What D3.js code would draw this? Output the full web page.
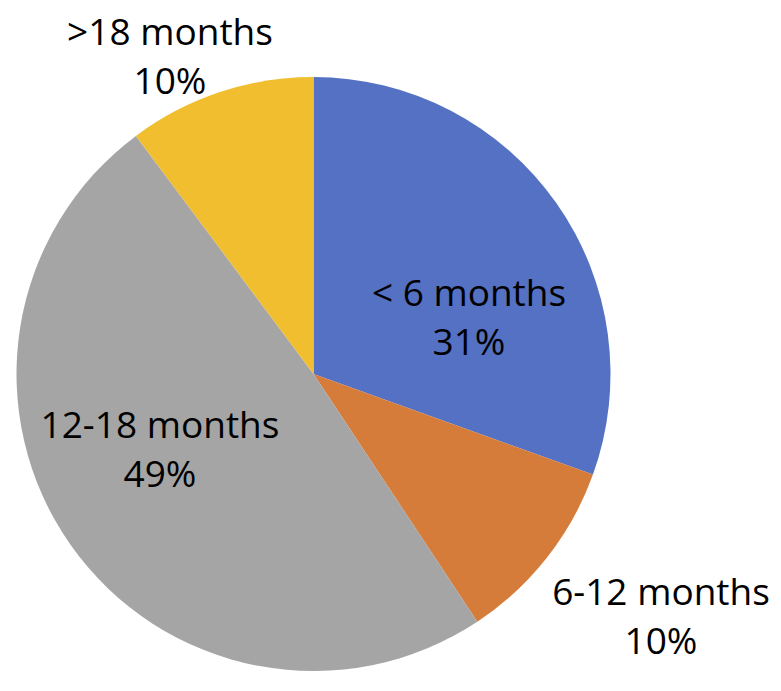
<!DOCTYPE html>
<html>
<head>
<meta charset="utf-8">
<script src="https://cdn.jsdelivr.net/npm/d3@7"></script>
<style>
  html, body { margin: 0; padding: 0; background: #fff; }
  text { font-family: "Open Sans", sans-serif; font-size: 37px; fill: #000; }
</style>
</head>
<body>
<svg id="chart" width="781" height="691"></svg>
<script>
// data

let categories = ["< 6 months", "6-12 months", "12-18 months", ">18 months"];
let shares = [30.5, 10.2, 49.1, 10.2];
let percentLabels = ["31%", "10%", "49%", "10%"];
let colors = ["#5571c3", "#d67c3a", "#a5a5a5", "#f0be2e"];

// label anchor points (first line baseline, relative to svg)
let labelPos = [[469, 306], [661, 605], [160, 438], [170, 45]];

// layout

let cx = 313.5;
let cy = 374;
let radius = 297;
let lineGap = 49;

let svg = d3.select("#chart");

let pie = d3.pie()
    .sort(null)
    .value(d => d);

let arc = d3.arc()
    .innerRadius(0)
    .outerRadius(radius);

let color = d3.scaleOrdinal()
    .domain(categories)
    .range(colors);

// SLICES

let slices = svg.append("g")
    .attr("class", "slices")
    .attr("transform", `translate(${cx},${cy})`);

slices.selectAll("path")
    .data(pie(shares))
  .join("path")
    .attr("d", arc)
    .attr("fill", (d, i) => color(categories[i]));

// LABELS

let labels = svg.append("g")
    .attr("class", "labels");

let label = labels.selectAll("text")
    .data(categories)
  .join("text")
    .attr("text-anchor", "middle")
    .attr("x", (d, i) => labelPos[i][0])
    .attr("y", (d, i) => labelPos[i][1]);

label.append("tspan")
    .attr("x", (d, i) => labelPos[i][0])
    .text(d => d);

label.append("tspan")
    .attr("x", (d, i) => labelPos[i][0])
    .attr("dy", lineGap)
    .text((d, i) => percentLabels[i]);
</script>
</body>
</html>
